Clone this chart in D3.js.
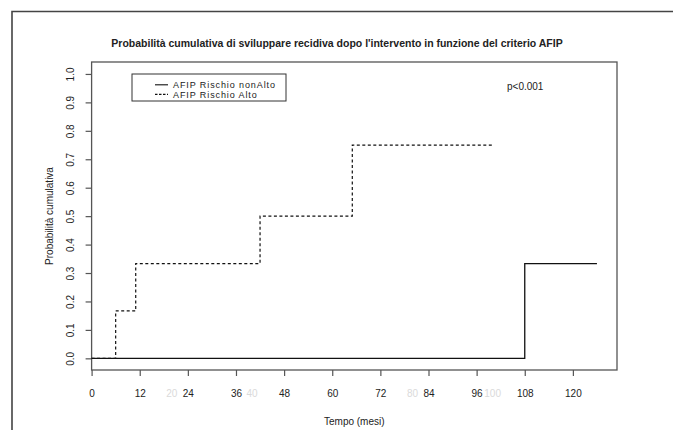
<!DOCTYPE html>
<html>
<head>
<meta charset="utf-8">
<script src="https://cdn.jsdelivr.net/npm/d3@7"></script>
<style>
  body { margin: 0; background: #fff; }
  text { font-family: "Liberation Sans", Arial, sans-serif; fill: #222; }
</style>
</head>
<body>
<script>
// data
const timeAlto = [0, 6, 11, 42, 65, 100];
const probAlto = [0, 1 / 6, 1 / 3, 0.5, 0.75, 0.75];
const timeNonAlto = [0, 108, 126];
const probNonAlto = [0, 1 / 3, 1 / 3];
const xTicks = [0, 12, 24, 36, 48, 60, 72, 84, 96, 108, 120];
const xGhostTicks = [20, 40, 80, 100];
const yTicks = [0, 0.1, 0.2, 0.3, 0.4, 0.5, 0.6, 0.7, 0.8, 0.9, 1.0];
const seriesNames = ["AFIP Rischio nonAlto", "AFIP Rischio Alto"];

var width = 673, height = 430;
var box = { left: 91.6, right: 617, top: 62, bottom: 370 };

var svg = d3.select("body").append("svg")
    .attr("width", width)
    .attr("height", height);

// outer frame (left and top edges visible)
svg.append("path")
    .attr("d", "M12,430V11.5H673")
    .attr("fill", "none")
    .attr("stroke", "#444")
    .attr("stroke-width", 1.6);

var x = d3.scaleLinear().domain([0, 131]).range([box.left, box.right]);
var y = d3.scaleLinear().domain([-0.041, 1.042]).range([box.bottom, box.top]);

// title
svg.append("text")
    .attr("x", 337)
    .attr("y", 46.5)
    .attr("text-anchor", "middle")
    .style("font-size", "10.5px")
    .style("font-weight", "bold")
    .text("Probabilità cumulativa di sviluppare recidiva dopo l'intervento in funzione del criterio AFIP");

// plot box
svg.append("rect")
    .attr("x", box.left)
    .attr("y", box.top)
    .attr("width", box.right - box.left)
    .attr("height", box.bottom - box.top)
    .attr("fill", "none")
    .attr("stroke", "#555")
    .attr("stroke-width", 1.3);

// x axis
var xAxis = d3.axisBottom(x).tickValues(xTicks).tickSize(6).tickPadding(14)
    .tickFormat(d3.format("d"));
var gx = svg.append("g")
    .attr("transform", "translate(0," + box.bottom + ")")
    .call(xAxis);
gx.select(".domain").remove();
gx.selectAll("line").attr("stroke", "#555").attr("stroke-width", 1.2);
gx.selectAll("text").style("font-size", "10px").attr("fill", "#222");

// faint leftover labels
svg.selectAll("text.ghost")
    .data(xGhostTicks)
    .enter().append("text")
    .attr("class", "ghost")
    .attr("x", function (d) { return x(d); })
    .attr("y", 397)
    .attr("text-anchor", "middle")
    .style("font-size", "10px")
    .style("fill", "#dadada")
    .text(function (d) { return d; });

svg.append("text")
    .attr("x", (box.left + box.right) / 2)
    .attr("y", 424.5)
    .attr("text-anchor", "middle")
    .style("font-size", "10px")
    .text("Tempo (mesi)");

// y axis
var yAxis = d3.axisLeft(y).tickValues(yTicks).tickSize(6).tickPadding(0)
    .tickFormat(d3.format(".1f"));
var gy = svg.append("g")
    .attr("transform", "translate(" + box.left + ",0)")
    .call(yAxis);
gy.select(".domain").remove();
gy.selectAll("line").attr("stroke", "#555").attr("stroke-width", 1.2);
gy.selectAll("text")
    .style("font-size", "10px")
    .attr("fill", "#222")
    .attr("text-anchor", "middle")
    .attr("x", 0)
    .attr("dy", 0)
    .attr("transform", "translate(-18,0)rotate(-90)");

svg.append("text")
    .attr("transform", "translate(53," + ((box.top + box.bottom) / 2) + ")rotate(-90)")
    .attr("text-anchor", "middle")
    .style("font-size", "10px")
    .text("Probabilità cumulativa");

// curves
var line = d3.line()
    .x(function (d) { return x(d[0]); })
    .y(function (d) { return y(d[1]); })
    .curve(d3.curveStepAfter);

svg.append("path")
    .datum(d3.zip(timeNonAlto, probNonAlto))
    .attr("d", line)
    .attr("fill", "none")
    .attr("stroke", "#111")
    .attr("stroke-width", 1.3);

svg.append("path")
    .datum(d3.zip(timeAlto, probAlto))
    .attr("d", line)
    .attr("fill", "none")
    .attr("stroke", "#111")
    .attr("stroke-width", 1.2)
    .attr("stroke-dasharray", "3,2.5");

// legend
var legend = svg.append("g").attr("transform", "translate(132,74)");
legend.append("rect")
    .attr("width", 154)
    .attr("height", 27)
    .attr("fill", "none")
    .attr("stroke", "#333")
    .attr("stroke-width", 1);
var items = legend.selectAll("g.item")
    .data(seriesNames)
    .enter().append("g")
    .attr("class", "item")
    .attr("transform", function (d, i) { return "translate(0," + (10.8 + i * 9.6) + ")"; });
items.append("line")
    .attr("x1", 23).attr("x2", 36)
    .attr("stroke", "#111")
    .attr("stroke-width", 1.1)
    .attr("stroke-dasharray", function (d, i) { return i === 1 ? "2.5,1.5" : null; });
items.append("text")
    .attr("x", 41)
    .attr("y", 3.2)
    .style("font-size", "9px")
    .style("letter-spacing", "0.9px")
    .text(function (d) { return d; });

svg.append("text")
    .attr("x", 507)
    .attr("y", 90)
    .style("font-size", "10px")
    .text("p<0.001");
</script>
</body>
</html>
